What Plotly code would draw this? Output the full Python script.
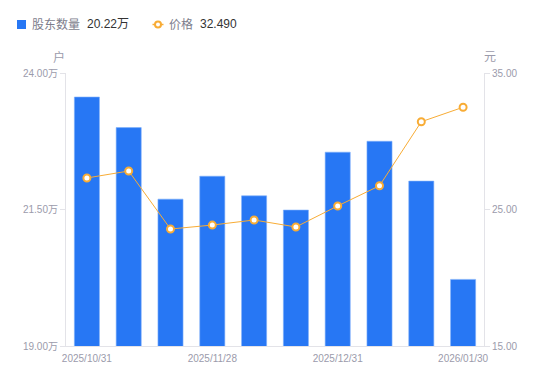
import plotly.graph_objects as go

dates = ["2025/10/31", "2025/11/10", "2025/11/20", "2025/11/28", "2025/12/10",
         "2025/12/19", "2025/12/31", "2026/01/09", "2026/01/20", "2026/01/30"]
holders_wan = [23.56, 23.00, 21.69, 22.11, 21.75, 21.49, 22.55, 22.75, 22.02, 20.22]
price = [27.31, 27.82, 23.57, 23.86, 24.23, 23.72, 25.26, 26.74, 31.43, 32.49]
tick_dates = ["2025/10/31", "2025/11/28", "2025/12/31", "2026/01/30"]
left_ticks = [19.0, 21.5, 24.0]
right_ticks = [15, 25, 35]

FONT = "Liberation Sans, Arial, Noto Sans CJK SC, sans-serif"
GRAY = "#9b9bab"
LEGEND_GRAY = "#7d7d8c"
DARK = "#333333"
BLUE = "#2777F4"
ORANGE = "#F8AC35"

# page body has an 8px margin; figure sized to fill the rest of the window
OFF = 8
W, H = 550 - OFF, 381 - OFF
PL, PR, PT, PB = 66, 484, 73, 346  # plot area in window pixels
ML, MT = PL - OFF, PT - OFF
MR, MB = W - (PR - OFF), H - (PB - OFF)
PW, PH = PR - PL, PB - PT


def px(x):
    return (x - PL) / PW


def py(y):
    return 1 - (y - PT) / PH


fig = go.Figure()
fig.add_trace(go.Bar(
    x=dates, y=holders_wan, yaxis="y", name="股东数量",
    marker=dict(color=BLUE, line=dict(color="#7fb0fa", width=0.6)),
    width=0.6, hoverinfo="skip", showlegend=False,
))
fig.add_trace(go.Scatter(
    x=dates, y=price, yaxis="y2", mode="lines+markers", name="价格",
    line=dict(color=ORANGE, width=1),
    marker=dict(symbol="circle", size=7, color="white", line=dict(color=ORANGE, width=2)),
    hoverinfo="skip", showlegend=False,
))

LEG_Y = 24.5
shapes = [
    dict(type="rect", xref="paper", yref="paper",
         x0=px(17), x1=px(26), y0=py(LEG_Y - 4.5), y1=py(LEG_Y + 4.5),
         fillcolor=BLUE, line=dict(width=0)),
    dict(type="line", xref="paper", yref="paper",
         x0=px(152.5), x1=px(163.5), y0=py(LEG_Y), y1=py(LEG_Y),
         line=dict(color=ORANGE, width=1.5)),
    dict(type="circle", xref="paper", yref="paper",
         x0=px(155), x1=px(161), y0=py(LEG_Y - 3), y1=py(LEG_Y + 3),
         fillcolor="white", line=dict(color=ORANGE, width=2)),
]


def txt(s, x, color, y=LEG_Y, size=12, anchor="left"):
    return dict(text=s, xref="paper", yref="paper", x=px(x), y=py(y),
                xanchor=anchor, yanchor="middle", showarrow=False,
                font=dict(size=size, color=color, family=FONT))


annotations = [
    txt("股东数量", 30, LEGEND_GRAY),
    txt(f"{holders_wan[-1]:.2f}万", 85, DARK),
    txt("价格", 167, LEGEND_GRAY),
    txt(f"{price[-1]:.3f}", 198, DARK),
    txt("户", 59, GRAY, y=57, anchor="center"),
    txt("元", 490, GRAY, y=57, anchor="center"),
]

TICK_FONT = dict(size=10, color=GRAY, family=FONT)

fig.update_layout(
    width=W, height=H,
    margin=dict(l=ML, r=MR, t=MT, b=MB, autoexpand=False),
    plot_bgcolor="white", paper_bgcolor="white",
    font=dict(family=FONT, size=10, color=GRAY),
    showlegend=False,
    bargap=0.4,
    shapes=shapes,
    annotations=annotations,
    xaxis=dict(
        type="category", categoryorder="array", categoryarray=dates,
        tickmode="array", tickvals=tick_dates, ticktext=tick_dates,
        showline=True, linecolor="#e3e3e8", linewidth=1,
        ticks="outside", ticklen=3, tickcolor="rgba(0,0,0,0)",
        showgrid=False, tickfont=TICK_FONT,
        range=[-0.5, len(dates) - 0.5], automargin=False,
    ),
    yaxis=dict(
        range=[19, 24], tickmode="array", tickvals=left_ticks,
        ticktext=[f"{v:.2f}万" for v in left_ticks],
        showline=True, linecolor="#e3e3e8", linewidth=1,
        ticks="outside", ticklen=5, tickcolor="#e3e3e8",
        showgrid=False, zeroline=False, tickfont=TICK_FONT,
        automargin=False,
    ),
    yaxis2=dict(
        range=[15, 35], overlaying="y", side="right", tickmode="array",
        tickvals=right_ticks, ticktext=[f"{v:.2f}" for v in right_ticks],
        showline=True, linecolor="#e3e3e8", linewidth=1,
        ticks="outside", ticklen=5, tickcolor="#e3e3e8",
        showgrid=False, zeroline=False, tickfont=TICK_FONT,
        automargin=False,
    ),
)

fig.write_html("out.html")
